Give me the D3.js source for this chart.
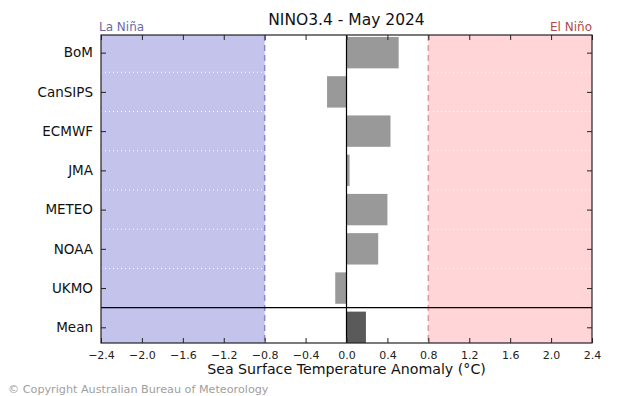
<!DOCTYPE html>
<html><head><meta charset="utf-8">
<script src="https://cdn.jsdelivr.net/npm/d3@7"></script>
<style>body{margin:0;background:#fff;} text{font-family:"DejaVu Sans",sans-serif;}</style>
</head><body>
<svg id="c" width="632" height="396"></svg>
<script>
const models = ["BoM","CanSIPS","ECMWF","JMA","METEO","NOAA","UKMO","Mean"];
const values = [0.51,-0.19,0.43,0.03,0.40,0.31,-0.11,0.19];
const xTicks = [-2.4,-2.0,-1.6,-1.2,-0.8,-0.4,0.0,0.4,0.8,1.2,1.6,2.0,2.4];
const threshold = 0.8;
const title = "NINO3.4 - May 2024";

const svg = d3.select("#c");
const L=101, R=592, T=35, B=343;
const x = d3.scaleLinear().domain([-2.4,2.4]).range([L,R]);
const y = d3.scaleLinear().domain([-0.45,7.4]).range([T,B]);
const bh = 0.8*(y(1)-y(0));

// shaded regions
svg.append("rect").attr("x",x(-2.4)).attr("y",T).attr("width",x(-threshold)-x(-2.4)).attr("height",B-T).attr("fill","#c3c3eb");
svg.append("rect").attr("x",x(threshold)).attr("y",T).attr("width",x(2.4)-x(threshold)).attr("height",B-T).attr("fill","#ffd5d7");

// dotted separators
const seps = d3.range(0.5,6.5,1);
svg.selectAll(".sep").data(seps).join("line")
  .attr("x1",L).attr("x2",R).attr("y1",d=>y(d)).attr("y2",d=>y(d))
  .attr("stroke","#fff").attr("stroke-width",1).attr("stroke-dasharray","1,3");

// threshold dashed lines
svg.append("line").attr("x1",x(-threshold)).attr("x2",x(-threshold)).attr("y1",T).attr("y2",B)
  .attr("stroke","#8a8acc").attr("stroke-width",1.5).attr("stroke-dasharray","6,4");
svg.append("line").attr("x1",x(threshold)).attr("x2",x(threshold)).attr("y1",T).attr("y2",B)
  .attr("stroke","#dc9a9c").attr("stroke-width",1.5).attr("stroke-dasharray","6,4");

// bars
svg.selectAll(".bar").data(values).join("rect")
  .attr("x",d=>x(Math.min(0,d))).attr("width",d=>Math.abs(x(d)-x(0)))
  .attr("y",(d,i)=>Math.max(T,y(i)-bh/2)).attr("height",(d,i)=>Math.min(B,y(i)+bh/2)-Math.max(T,y(i)-bh/2))
  .attr("fill",(d,i)=>i===7?"#5a5a5a":"#999999");

// zero line
svg.append("line").attr("x1",x(0)).attr("x2",x(0)).attr("y1",T).attr("y2",B).attr("stroke","#000").attr("stroke-width",1.2);
// mean separator
svg.append("line").attr("x1",L).attr("x2",R).attr("y1",y(6.5)).attr("y2",y(6.5)).attr("stroke","#000").attr("stroke-width",1.2);

// axes
const gB = svg.append("g").attr("transform",`translate(0,${B})`)
  .call(d3.axisBottom(x).tickValues(xTicks).tickSizeInner(-5).tickSizeOuter(0).tickPadding(8).tickFormat(d=>d3.format(".1f")(d).replace("-","\u2212")));
gB.select(".domain").remove();
gB.selectAll("text").attr("font-size","11px").attr("fill","#222");
gB.selectAll("line").attr("stroke","#222");

const gT = svg.append("g").attr("transform",`translate(0,${T})`)
  .call(d3.axisTop(x).tickValues(xTicks).tickSizeInner(-5).tickSizeOuter(0).tickFormat(""));
gT.select(".domain").remove();
gT.selectAll("line").attr("stroke","#222");

const gL = svg.append("g").attr("transform",`translate(${L},0)`)
  .call(d3.axisLeft(y).tickValues(d3.range(models.length)).tickSizeInner(-5).tickSizeOuter(0).tickPadding(8).tickFormat(i=>models[i]));
gL.select(".domain").remove();
gL.selectAll("text").attr("font-size","13.5px").attr("fill","#111");
gL.selectAll("line").attr("stroke","#222");

const gR = svg.append("g").attr("transform",`translate(${R},0)`)
  .call(d3.axisRight(y).tickValues(d3.range(models.length)).tickSizeInner(-5).tickSizeOuter(0).tickFormat(""));
gR.select(".domain").remove();
gR.selectAll("line").attr("stroke","#222");

// frame
svg.append("rect").attr("x",L).attr("y",T).attr("width",R-L).attr("height",B-T)
  .attr("fill","none").attr("stroke","#222").attr("stroke-width",1.2);

// texts
svg.append("text").attr("x",(L+R)/2).attr("y",25).attr("text-anchor","middle").attr("font-size","15.5px").attr("fill","#111").text(title);
svg.append("text").attr("x",L-2).attr("y",31).attr("font-size","12px").attr("fill","#6a6aa8").text("La Niña");
svg.append("text").attr("x",R).attr("y",31).attr("text-anchor","end").attr("font-size","12px").attr("fill","#b04a4a").text("El Niño");
svg.append("text").attr("x",(L+R)/2).attr("y",374).attr("text-anchor","middle").attr("font-size","14.2px").attr("fill","#111").text("Sea Surface Temperature Anomaly (°C)");
svg.append("text").attr("x",8).attr("y",393).attr("font-size","11.2px").attr("fill","#a0a0a0").text("© Copyright Australian Bureau of Meteorology");
</script>
</body></html>
